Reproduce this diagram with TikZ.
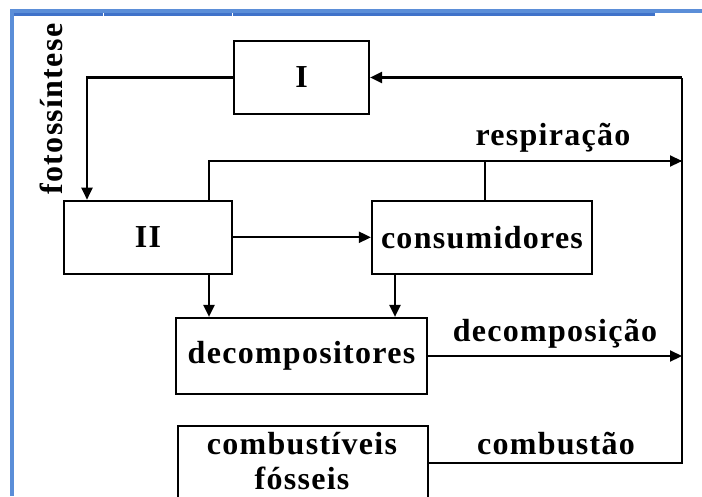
\documentclass[tikz,border=0pt]{standalone}
\usepackage{fontspec}
\setmainfont{Liberation Serif}[LetterSpace=4]
\usetikzlibrary{arrows.meta,calc}
\definecolor{frameA}{HTML}{5B8ED8}
\definecolor{frameB}{HTML}{3F72C9}
\tikzset{
  box/.style={draw, line width=2.2pt, inner sep=0pt, font=\bfseries\fontsize{32}{35}\selectfont},
  lbl/.style={anchor=base, inner sep=0pt, font=\bfseries\fontsize{32}{35}\selectfont},
  wire/.style={line width=2.2pt},
  arr/.style={wire, -{Triangle[length=12pt,width=11pt]}},
}
\begin{document}
\begin{tikzpicture}[x=1pt,y=-1pt]
\useasboundingbox (0,0) rectangle (702,496);
% page frame
\fill[frameA] (10,9) rectangle (702,12.7);
\fill[frameB] (10,12.7) rectangle (655,16);
\fill[white] (102.5,12.7) rectangle (103.5,16);
\fill[white] (231.5,12.7) rectangle (232.5,16);
\fill[frameA] (10,9) rectangle (14,496);

% boxes
\node[box, minimum width=135pt, minimum height=73pt] (I) at (301.5,77.5) {I};
\node[box, minimum width=168pt, minimum height=73pt] (II) at (148,237.3) {II};
\node[box, minimum width=220pt, minimum height=73pt] (con) at (482,237.3) {consumidores};
\node[box, minimum width=251pt, minimum height=76pt] (dec) at (301.5,356) {decompositores};
\node[box, minimum width=250pt, minimum height=90pt, anchor=north west] (fos) at (177,425) {};
\node[lbl, align=center] (fost) at (302,489) {combustíveis\\fósseis};

% labels
\node[lbl, rotate=90] (fot) at (62,109) {fotossíntese};
\node[lbl] (resp) at (553,145) {respiração};
\node[lbl] (decp) at (555,341) {decomposição};
\node[lbl] (comb) at (556,454) {combustão};

% right return line
\coordinate (rs) at (682,161);
\coordinate (rtop) at (682,77.5);
\coordinate (rbot) at (682,463);

% connectors
\draw[arr] (I.west) -| ([xshift=-61pt]II.north);
\draw[arr] (II.east) -- (con.west);
\draw[arr] ([xshift=61pt]II.north) |- (rs);
\draw[wire] ([xshift=3pt]con.north) |- (rs);
\coordinate (p1) at ([xshift=61pt]II.south);
\coordinate (p2) at ([xshift=-87pt]con.south);
\draw[arr] (p1) -- (p1 |- dec.north);
\draw[arr] (p2) -- (p2 |- dec.north);
\draw[arr] (dec.east) -- (dec.east -| rs);
\draw[wire, line join=miter] ([yshift=-38pt]fos.north east) -- (rbot) -- (rtop);
\draw[arr] (rtop) -- (I.east);
\end{tikzpicture}
\end{document}
